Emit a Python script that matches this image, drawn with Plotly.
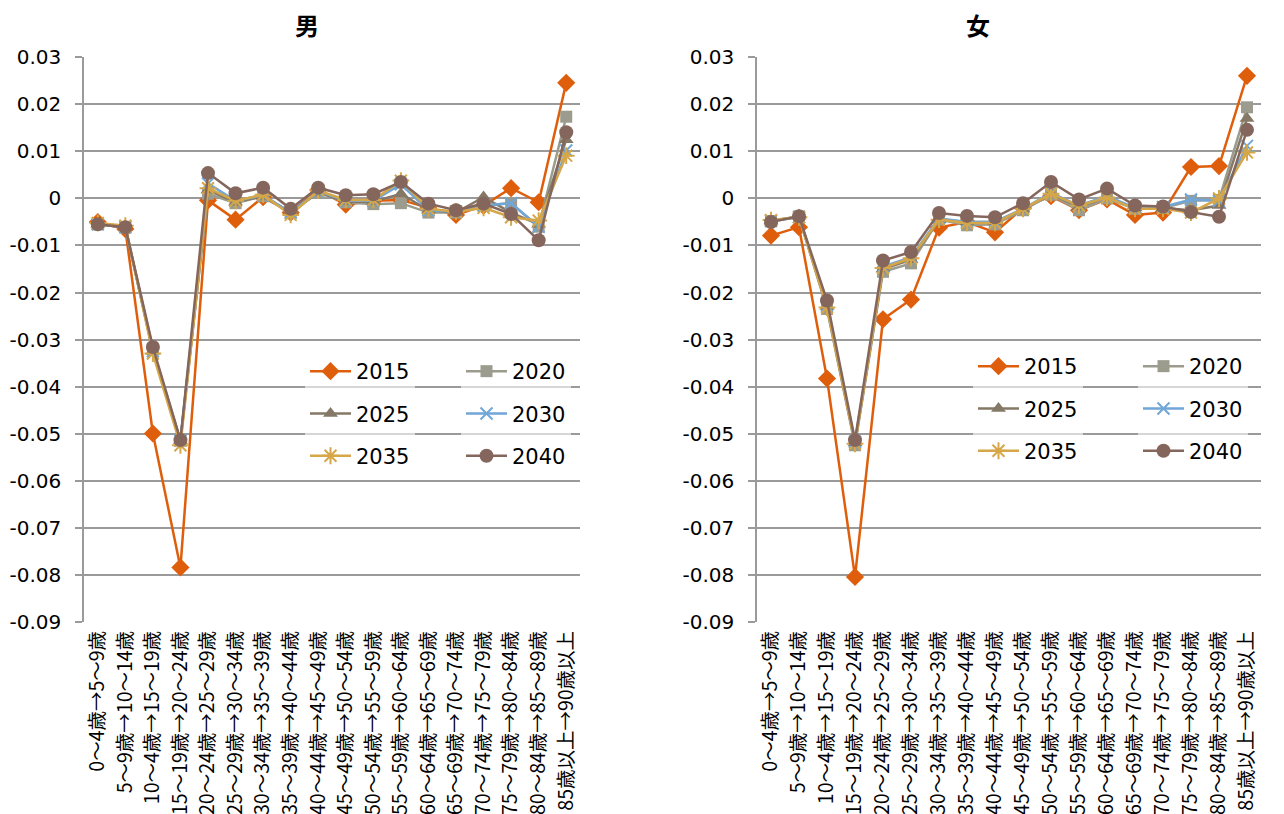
import plotly.graph_objects as go

categories = [
    "0～4歳→5～9歳", "5～9歳→10～14歳", "10～4歳→15～19歳", "15～19歳→20～24歳",
    "20～24歳→25～29歳", "25～29歳→30～34歳", "30～34歳→35～39歳", "35～39歳→40～44歳",
    "40～44歳→45～49歳", "45～49歳→50～54歳", "50～54歳→55～59歳", "55～59歳→60～64歳",
    "60～64歳→65～69歳", "65～69歳→70～74歳", "70～74歳→75～79歳", "75～79歳→80～84歳",
    "80～84歳→85～89歳", "85歳以上→90歳以上",
]

years = ["2015", "2020", "2025", "2030", "2035", "2040"]

male_2015 = [-0.0050, -0.0065, -0.0500, -0.0785, -0.0004, -0.0045, 0.0003, -0.0030, 0.0018, -0.0013, -0.0005, -0.0003, -0.0020, -0.0035, -0.0015, 0.0022, -0.0008, 0.0246]
male_2020 = [-0.0055, -0.0062, -0.0320, -0.0515, 0.0010, -0.0010, 0.0005, -0.0030, 0.0013, -0.0008, -0.0012, -0.0010, -0.0030, -0.0030, -0.0015, -0.0010, -0.0060, 0.0174]
male_2025 = [-0.0055, -0.0062, -0.0325, -0.0515, 0.0018, -0.0008, 0.0005, -0.0030, 0.0013, -0.0007, -0.0007, 0.0010, -0.0025, -0.0030, 0.0003, -0.0030, -0.0055, 0.0125]
male_2030 = [-0.0055, -0.0060, -0.0325, -0.0515, 0.0032, -0.0005, 0.0007, -0.0030, 0.0015, -0.0005, -0.0005, 0.0030, -0.0025, -0.0028, -0.0015, -0.0010, -0.0060, 0.0102]
male_2035 = [-0.0052, -0.0058, -0.0330, -0.0525, 0.0022, -0.0005, 0.0008, -0.0035, 0.0017, -0.0003, -0.0003, 0.0038, -0.0022, -0.0028, -0.0020, -0.0040, -0.0047, 0.0091]
male_2040 = [-0.0055, -0.0061, -0.0316, -0.0514, 0.0054, 0.0011, 0.0023, -0.0022, 0.0023, 0.0007, 0.0009, 0.0035, -0.0011, -0.0025, -0.0011, -0.0033, -0.0089, 0.0141]

female_2015 = [-0.0079, -0.0061, -0.0383, -0.0805, -0.0257, -0.0215, -0.0062, -0.0050, -0.0072, -0.0020, 0.0005, -0.0025, -0.0002, -0.0035, -0.0030, 0.0067, 0.0069, 0.0261]
female_2020 = [-0.0048, -0.0038, -0.0235, -0.0525, -0.0156, -0.0138, -0.0045, -0.0057, -0.0055, -0.0025, 0.0008, -0.0025, 0.0000, -0.0022, -0.0020, -0.0005, -0.0003, 0.0194]
female_2025 = [-0.0048, -0.0038, -0.0230, -0.0520, -0.0150, -0.0130, -0.0045, -0.0050, -0.0050, -0.0023, 0.0010, -0.0018, 0.0003, -0.0020, -0.0020, -0.0025, -0.0015, 0.0170]
female_2030 = [-0.0048, -0.0040, -0.0228, -0.0518, -0.0145, -0.0125, -0.0042, -0.0050, -0.0050, -0.0022, 0.0012, -0.0015, 0.0005, -0.0020, -0.0018, -0.0002, -0.0005, 0.0112]
female_2035 = [-0.0046, -0.0040, -0.0232, -0.0522, -0.0148, -0.0127, -0.0045, -0.0052, -0.0052, -0.0022, 0.0010, -0.0015, 0.0002, -0.0022, -0.0022, -0.0030, 0.0000, 0.0098]
female_2040 = [-0.0050, -0.0038, -0.0217, -0.0514, -0.0132, -0.0114, -0.0031, -0.0037, -0.0040, -0.0010, 0.0035, -0.0002, 0.0021, -0.0015, -0.0017, -0.0029, -0.0039, 0.0146]

y_tickvals = [0.03, 0.02, 0.01, 0.0, -0.01, -0.02, -0.03, -0.04, -0.05, -0.06, -0.07, -0.08, -0.09]
y_ticktext = ["0.03", "0.02", "0.01", "0", "-0.01", "-0.02", "-0.03", "-0.04", "-0.05", "-0.06", "-0.07", "-0.08", "-0.09"]

titles = ["男", "女"]

male_series = [male_2015, male_2020, male_2025, male_2030, male_2035, male_2040]
female_series = [female_2015, female_2020, female_2025, female_2030, female_2035, female_2040]

# ---- styling ----
W, H = 1284, 814
OFF = 8  # page body margin


def px(x):
    return (x - OFF) / W


def py(y):
    return 1 - (y - OFF) / H


colors = ["#DF5E0C", "#9B9C8E", "#857866", "#70A6D8", "#D6A748", "#85665C"]
symbols = ["diamond", "square", "triangle-up", "x-thin", "asterisk", "circle"]
sizes = [14, 12, 13, 12, 14, 14]
open_sym = [False, False, False, True, True, False]
grid_col = "#9A9A9A"
num_font = "DejaVu Sans"
jp_font = "Noto Sans CJK JP"

y_min, y_max = -0.0901, 0.0301
ydom = [py(622), py(57)]
xdoms = [[px(84), px(580)], [px(757), px(1261)]]
zero_pos = ydom[0] + (0 - y_min) / (y_max - y_min) * (ydom[1] - ydom[0])
n = len(categories)

fig = go.Figure()

legend_ids = [["legend", "legend2"], ["legend3", "legend4"]]
for c, series in enumerate([male_series, female_series]):
    xa = "x" if c == 0 else "x2"
    ya = "y" if c == 0 else "y2"
    for i, (yr, vals) in enumerate(zip(years, series)):
        marker = dict(symbol=symbols[i], size=sizes[i], color=colors[i])
        if open_sym[i]:
            marker["line"] = dict(color=colors[i], width=2)
        else:
            marker["line"] = dict(width=0)
        fig.add_trace(go.Scatter(
            x=categories, y=vals, name=yr, mode="lines+markers",
            line=dict(color=colors[i], width=2.5),
            marker=marker, xaxis=xa, yaxis=ya,
            legend=legend_ids[c][i % 2], legendgroup=f"{c}-{yr}",
        ))

common_y = dict(
    range=[y_min, y_max], tickvals=y_tickvals, ticktext=y_ticktext,
    ticks="outside", ticklen=7, tickcolor=grid_col, tickwidth=1.5,
    showline=True, linecolor=grid_col, linewidth=1.5,
    showgrid=True, gridcolor=grid_col, gridwidth=1.5, zeroline=False,
    tickfont=dict(family=num_font, size=20, color="#000"),
    ticklabelstandoff=10, automargin=False, domain=ydom,
)
common_x = dict(
    type="category", range=[-0.5, n - 0.5], showline=False, ticks="", showgrid=False, zeroline=False,
    tickangle=-90, tickfont=dict(family=jp_font, size=19.5, color="#000"),
    ticklabelstandoff=4, automargin=False,
)
boundaries = [k - 0.5 for k in range(n + 1)]
common_ov = dict(
    type="linear", range=[-0.5, n - 0.5], tickvals=boundaries,
    showticklabels=False, ticks="outside", ticklen=6, tickcolor=grid_col, tickwidth=1.5,
    showline=True, linecolor=grid_col, linewidth=1.5, showgrid=False, zeroline=False,
    anchor="free", position=zero_pos, side="bottom",
)

leg_common = dict(
    font=dict(family=num_font, size=21, color="#000"),
    bgcolor="rgba(255,255,255,0.6)", tracegroupgap=12, itemwidth=41,
    xanchor="left", yanchor="top", orientation="v",
)

fig.update_layout(
    width=W, height=H, autosize=False,
    margin=dict(l=0, r=0, t=0, b=0),
    paper_bgcolor="white", plot_bgcolor="white",
    showlegend=True,
    xaxis=dict(domain=xdoms[0], anchor="y", **common_x),
    yaxis=dict(anchor="x", **common_y),
    xaxis2=dict(domain=xdoms[1], anchor="y2", **common_x),
    yaxis2=dict(anchor="x2", **common_y),
    xaxis3=dict(overlaying="x", domain=xdoms[0], **common_ov),
    xaxis4=dict(overlaying="x2", domain=xdoms[1], **common_ov),
    legend=dict(x=px(305), y=py(351), **leg_common),
    legend2=dict(x=px(461), y=py(351), **leg_common),
    legend3=dict(x=px(973), y=py(346), **leg_common),
    legend4=dict(x=px(1138), y=py(346), **leg_common),
    annotations=[
        dict(text=f"<b>{titles[0]}</b>", x=px(307), y=py(24), xref="paper", yref="paper",
             showarrow=False, xanchor="center", yanchor="middle",
             font=dict(family=jp_font, size=24, color="#000")),
        dict(text=f"<b>{titles[1]}</b>", x=px(978), y=py(24), xref="paper", yref="paper",
             showarrow=False, xanchor="center", yanchor="middle",
             font=dict(family=jp_font, size=24, color="#000")),
    ],
)

fig.write_html("out.html")
